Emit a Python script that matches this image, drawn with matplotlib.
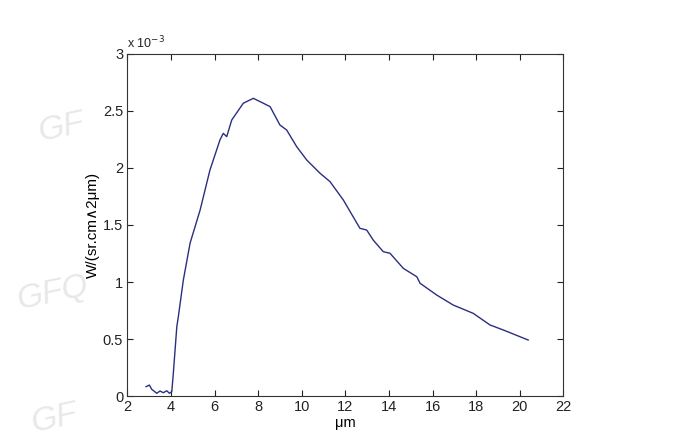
import matplotlib
matplotlib.use("Agg")
import matplotlib.pyplot as plt
from matplotlib.ticker import FuncFormatter

plt.rcParams['font.family'] = ['Liberation Sans', 'DejaVu Sans']

# wavelength (um) and radiance (W/(sr.cm^2 um))
wavelength = [2.86, 3.01, 3.12, 3.35, 3.50, 3.65, 3.81, 3.93, 4.04, 4.11,
              4.27, 4.34, 4.57, 4.88, 5.34, 5.79, 6.25, 6.40, 6.56, 6.79,
              7.32, 7.78, 8.24, 8.55, 9.00, 9.31, 9.77, 10.23, 10.84, 11.30,
              11.91, 12.67, 12.98, 13.28, 13.74, 14.05, 14.66, 15.28, 15.43,
              16.19, 16.95, 17.87, 18.64, 19.25, 20.39]
radiance = [0.082, 0.096, 0.059, 0.024, 0.044, 0.029, 0.046, 0.024, 0.038, 0.199,
            0.608, 0.696, 1.018, 1.342, 1.632, 1.982, 2.246, 2.304, 2.275, 2.421,
            2.568, 2.611, 2.568, 2.538, 2.377, 2.333, 2.187, 2.070, 1.954, 1.880,
            1.719, 1.471, 1.456, 1.368, 1.266, 1.252, 1.120, 1.046, 0.989,
            0.886, 0.798, 0.725, 0.623, 0.579, 0.491]
radiance = [v * 1e-3 for v in radiance]

xticks = [2, 4, 6, 8, 10, 12, 14, 16, 18, 20, 22]
yticks = [0, 0.5e-3, 1e-3, 1.5e-3, 2e-3, 2.5e-3, 3e-3]

fig = plt.figure(figsize=(7, 4.41), dpi=100)
ax = fig.add_axes([0.1819, 0.102, 0.8047 - 0.1819, 0.8776 - 0.102])

ax.plot(wavelength, radiance, color='#2a2f7f', lw=1.0)

ax.set_xlim(2, 22)
ax.set_ylim(0, 3e-3)
ax.set_xticks(xticks)
ax.set_yticks(yticks)
ax.yaxis.set_major_formatter(FuncFormatter(lambda v, p: '%g' % round(v * 1e3, 3)))
ax.tick_params(direction='in', top=True, right=True, length=4, width=0.8,
               labelsize=10.5, colors='#222222', pad=3)
for s in ax.spines.values():
    s.set_color('#333333')
    s.set_linewidth(0.8)

ax.text(0.0, 1.008, 'x 10$^{-3}$', transform=ax.transAxes, fontsize=9,
        ha='left', va='bottom', color='#222222')
ax.set_xlabel('μm', fontsize=10.5, labelpad=1)
ax.set_ylabel('W/(sr.cm\u22272μm)', fontsize=11, labelpad=2,
              family=['Liberation Sans', 'DejaVu Sans'])

# faint watermarks
for (x, y, t) in [(0.05, 0.68, 'GF'), (0.02, 0.30, 'GFQ'), (0.04, 0.02, 'GF')]:
    fig.text(x, y, t, fontsize=24, color='#e8e8e8', style='italic',
             rotation=12, zorder=0)

fig.savefig('out.png', dpi=100)
